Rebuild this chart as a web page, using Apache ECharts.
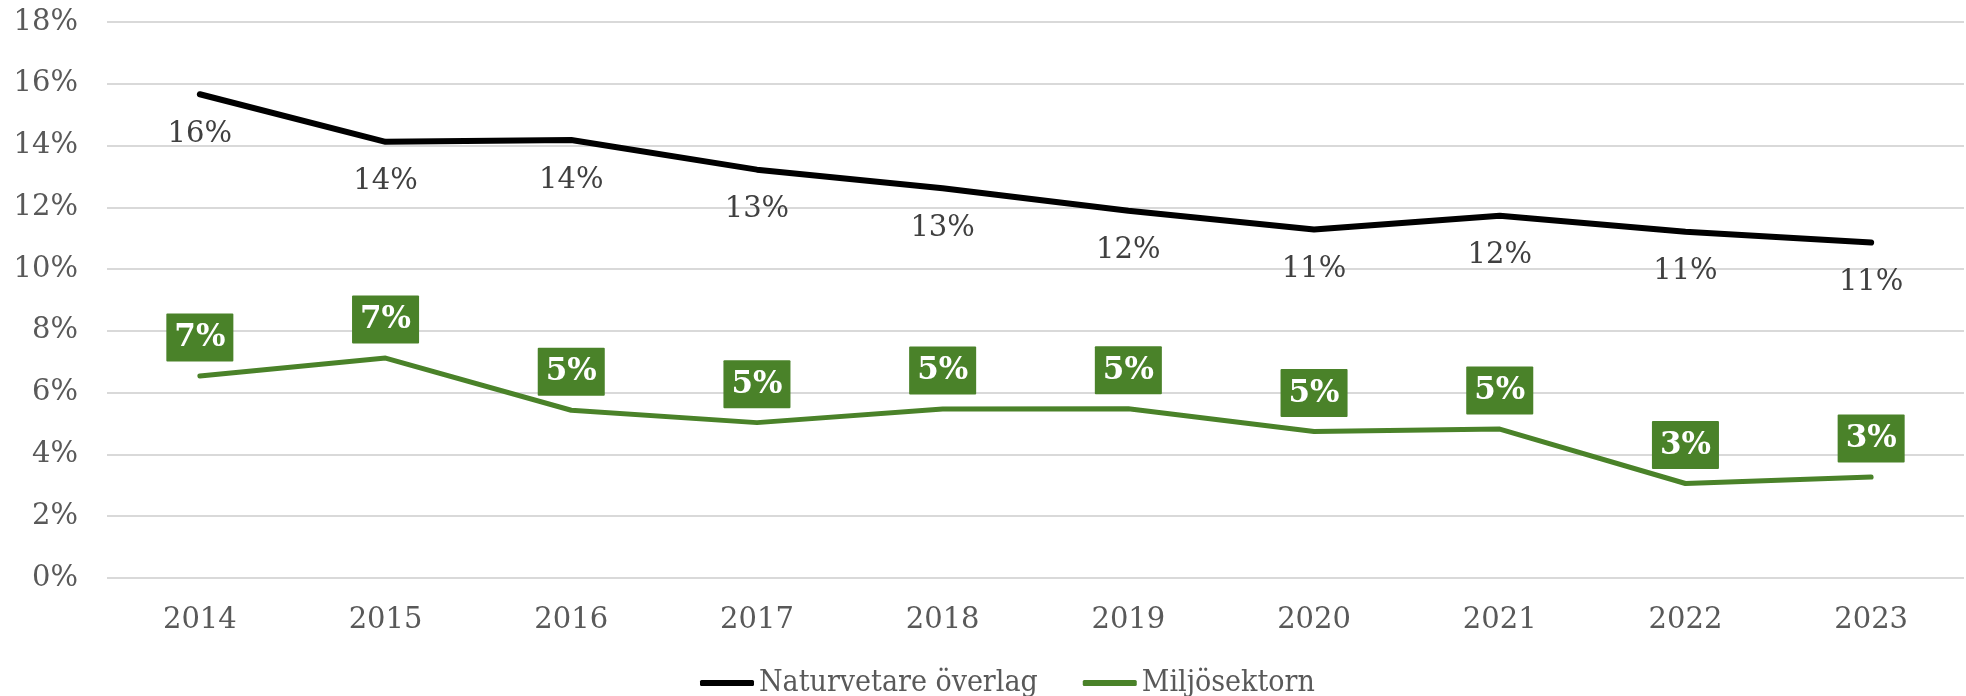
<!DOCTYPE html>
<html>
<head>
<meta charset="utf-8">
<script src="https://cdn.jsdelivr.net/npm/echarts@6/dist/echarts.min.js"></script>
<style>
	html, body { margin: 0; padding: 0; background: #fff; }
	#chart-area { width: 1966px; height: 696px; }
</style>
</head>
<body>
<div id="chart-area"></div>
<script>
const years = ['2014', '2015', '2016', '2017', '2018', '2019', '2020', '2021', '2022', '2023'];
const naturvetare = [15.66, 14.12, 14.18, 13.22, 12.62, 11.89, 11.28, 11.73, 11.21, 10.86];
const miljosektorn = [6.54, 7.12, 5.43, 5.03, 5.47, 5.48, 4.74, 4.82, 3.06, 3.27];

let chartDom = document.getElementById('chart-area');
let myChart = echarts.init(chartDom);
let serif = '"DejaVu Serif", "Liberation Serif", serif';
let option = {
	animation: false,
	grid: { left: 107, right: 2, top: 22, bottom: 118 },
	legend: {
		data: ['Naturvetare överlag', 'Miljösektorn'],
		top: 663,
		left: 695,
		icon: 'roundRect',
		itemWidth: 54,
		itemHeight: 6,
		itemGap: 45,
		textStyle: {
			fontFamily: '"DejaVu Serif Condensed", "Liberation Serif", serif',
			fontSize: 30,
			color: '#595959'
		}
	},
	xAxis: {
		type: 'category',
		data: years,
		axisLine: { show: false },
		axisTick: { show: false },
		axisLabel: { fontFamily: serif, fontSize: 29, color: '#595959', margin: 28 }
	},
	yAxis: {
		type: 'value',
		min: 0,
		max: 18,
		interval: 2,
		axisLabel: { formatter: '{value}%', fontFamily: serif, fontSize: 29, color: '#595959', margin: 29 },
		splitLine: { lineStyle: { color: '#d9d9d9', width: 2 } }
	},
	series: [
		{
			name: 'Naturvetare överlag',
			type: 'line',
			data: naturvetare,
			symbol: 'circle',
			symbolSize: 1,
			lineStyle: { color: '#000', width: 6, cap: 'round' },
			itemStyle: { color: '#000' },
			label: {
				show: true,
				position: 'bottom',
				distance: 25,
				formatter: p => Math.round(p.value) + '%',
				fontFamily: serif,
				fontSize: 29,
				color: '#404040'
			}
		},
		{
			name: 'Miljösektorn',
			type: 'line',
			data: miljosektorn,
			symbol: 'circle',
			symbolSize: 1,
			lineStyle: { color: '#4a8229', width: 5, cap: 'round' },
			itemStyle: { color: '#4a8229' },
			label: {
				show: true,
				position: 'top',
				distance: 14,
				formatter: p => Math.round(p.value) + '%',
				fontFamily: serif,
				fontSize: 31,
				fontWeight: 'bold',
				color: '#fff',
				backgroundColor: '#4a8229',
				padding: [9, 8, 8, 8],
				borderRadius: 1
			}
		}
	]
};
option && myChart.setOption(option);
</script>
</body>
</html>
